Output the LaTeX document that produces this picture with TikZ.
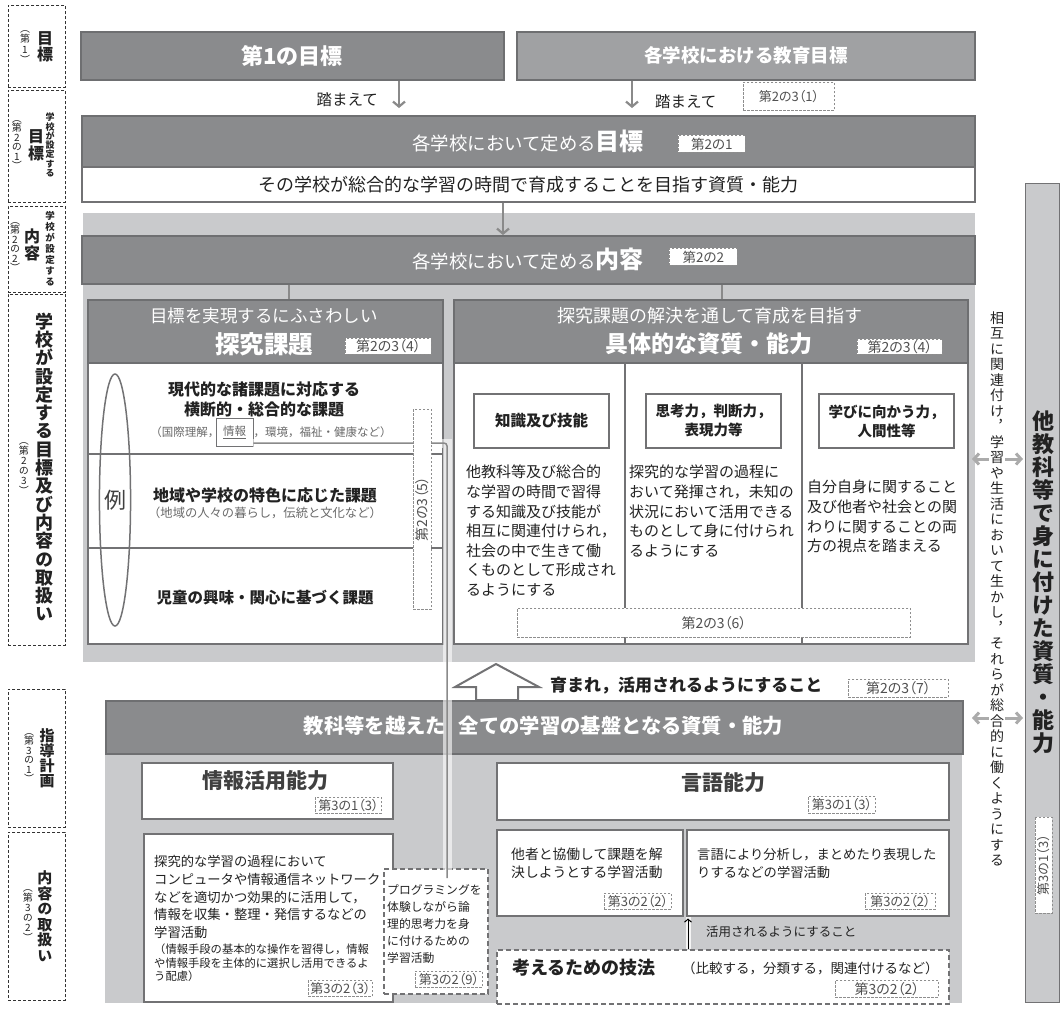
\documentclass[tikz,border=0pt]{standalone}
\usepackage{fontspec}
\setmainfont{Noto Sans CJK JP}
\newfontfamily\vjp{Noto Sans CJK JP}[RawFeature=+vert]
\newfontfamily\pjp{Noto Sans CJK JP}[RawFeature=+palt]
\usetikzlibrary{arrows.meta,shapes.geometric}
\definecolor{dk}{HTML}{8A8B8D}
\definecolor{dkb}{HTML}{6E6F71}
\definecolor{mid}{HTML}{A0A1A3}
\definecolor{lg}{HTML}{C9CACC}
\definecolor{bd}{HTML}{727274}
\definecolor{tagc}{HTML}{8E8E8E}
\definecolor{tagt}{HTML}{505050}
\definecolor{txt}{HTML}{222222}
\definecolor{gtx}{HTML}{6A6A6A}
\definecolor{arc}{HTML}{8A8A8A}
\definecolor{lar}{HTML}{ABABAB}
\makeatletter
\newcommand\vst[2]{\vbox{\baselineskip=#1\lineskiplimit=-\maxdimen\lineskip=0pt\@tfor\vch:=#2\do{\hbox to 1em{\hss\vch\hss}}}}
\makeatother
\newcommand\fsz[2]{\fontsize{#1}{#2}\selectfont}
\newcommand\bx[5]{\node[#1,anchor=north west,minimum width={#4-#2},minimum height={#5-#3}] at (#2,#3)}
\begin{document}
\begin{tikzpicture}[x=1pt,y=-1pt,
 dkbox/.style={fill=dk,draw=dkb,line width=1.5pt,inner sep=0pt,text=white},
 wbox/.style={fill=white,draw=bd,line width=1.5pt,inner sep=0pt},
 tagbox/.style={fill=white,draw=tagc,dash pattern=on 2.5pt off 1.5pt,line width=0.8pt,inner sep=0pt,text=tagt,font=\pjp\fsz{13}{13}},
 lbl/.style={draw=black!80,dash pattern=on 3pt off 2pt,line width=0.8pt,inner sep=0pt},
 tdash/.style={fill=white,draw=bd,line width=2pt,dash pattern=on 5pt off 3pt,inner sep=0pt},
 bgbox/.style={fill=lg,draw=none,inner sep=0pt},
 tx/.style={inner sep=0pt,text=txt},
 wt/.style={inner sep=0pt,text=white},
 garr/.style={draw=arc,line width=2.2pt,-{Straight Barb[length=5pt,width=12pt]}},
 larr/.style={draw=lar,line width=3pt,-{Straight Barb[length=5pt,width=11pt]}}]
\fill[white] (0,0) rectangle (1061,1010);
\useasboundingbox (0,0) rectangle (1061,1010);
% backgrounds
\bx{bgbox}{83}{213}{975}{662} (bga) {};
\bx{bgbox}{105}{700}{962}{1003} (bgb) {};
\bx{bgbox,draw=bd,line width=1pt}{1025}{183}{1059}{1002} (bar) {};
% left labels
\bx{lbl}{8}{5}{65}{87} (lb1) {};
\node[tx,font=\vjp\bfseries\fsz{16}{16}] (lb1a) at (45,47) {\vst{16.5pt}{目標}};
\node[tx,font=\vjp\fsz{10}{10}] (lb1b) at (25,47) {\vst{10.5pt}{（第1）}};
\bx{lbl}{8}{90}{65}{202} (lb2) {};
\node[tx,font=\vjp\bfseries\fsz{9}{9}] (lb2a) at (50,145) {\vst{9.3pt}{学校が設定する}};
\node[tx,font=\vjp\bfseries\fsz{16}{16}] (lb2b) at (36,145) {\vst{17pt}{目標}};
\node[tx,font=\vjp\fsz{10}{10}] (lb2c) at (17,145) {\vst{9.5pt}{（第2の1）}};
\bx{lbl}{8}{206}{65}{292} (lb3) {};
\node[tx,font=\vjp\bfseries\fsz{9.5}{9.5}] (lb3a) at (50,249) {\vst{11pt}{学校が設定する}};
\node[tx,font=\vjp\bfseries\fsz{16}{16}] (lb3b) at (32,245) {\vst{17pt}{内容}};
\node[tx,font=\vjp\fsz{10}{10}] (lb3c) at (15,247) {\vst{9.5pt}{（第2の2）}};
\bx{lbl}{8}{294}{65}{645} (lb4) {};
\node[tx,font=\vjp\bfseries\fsz{18}{18}] (lb4a) at (44,467) {\vst{18.3pt}{学校が設定する目標及び内容の取扱い}};
\node[tx,font=\vjp\fsz{10}{10}] (lb4b) at (24,469) {\vst{10pt}{（第2の3）}};
\bx{lbl}{8}{689}{65}{827} (lb5) {};
\node[tx,font=\vjp\bfseries\fsz{15}{15}] (lb5a) at (47,758) {\vst{15pt}{指導計画}};
\node[tx,font=\vjp\fsz{10}{10}] (lb5b) at (29,758) {\vst{9.5pt}{（第3の1）}};
\bx{lbl}{8}{832}{65}{1000} (lb6) {};
\node[tx,font=\vjp\bfseries\fsz{15}{15}] (lb6a) at (45,916) {\vst{15.5pt}{内容の取扱い}};
\node[tx,font=\vjp\fsz{10}{10}] (lb6b) at (28,916) {\vst{10pt}{（第3の2）}};
% top boxes
\bx{dkbox}{80}{31}{503}{79} (g1) {\bfseries\fsz{22}{22}第1の目標};
\bx{dkbox,fill=mid}{516}{31}{974}{79} (g2) {\bfseries\fsz{18.5}{18.5}各学校における教育目標};
\bx{dkbox}{81}{115}{974}{166} (gm) {\fsz{18.4}{20}各学校において定める\bfseries\fsz{24}{24}目標};
\bx{wbox,text=txt}{81}{166}{974}{201} (gw) {\fsz{18}{18}その学校が総合的な学習の時間で育成することを目指す資質・能力};
\bx{dkbox}{81}{235}{974}{283} (gc) {\fsz{18.4}{20}各学校において定める\bfseries\fsz{24}{24}内容};
\bx{tagbox,font=\pjp\fsz{13}{13}}{743}{82}{834}{110} (t231) {第2の3（1）};
\bx{tagbox,font=\pjp\fsz{13.5}{13.5}}{678}{135}{745}{152} (t21) {第2の1};
\bx{tagbox,font=\pjp\fsz{13.5}{13.5}}{669}{248}{737}{265} (t22) {第2の2};
\coordinate (xa) at (399,0);
\coordinate (xb) at (632,0);
\coordinate (xc) at (503,0);
\draw[garr,shorten >=7pt] (g1.south -| xa) -- (gm.north -| xa);
\draw[garr,shorten >=7pt] (g2.south -| xb) -- (gm.north -| xb);
\draw[garr] (gw.south -| xc) -- (gc.north -| xc);
\node[tx,font=\fsz{15.5}{16},anchor=east] (fm1) at (378,100) {踏まえて};
\node[tx,font=\fsz{15.5}{16},anchor=west] (fm2) at (655,102) {踏まえて};
% left big box
\bx{wbox}{87}{362}{442}{643} (Lb) {};
\bx{dkbox}{87}{299}{442}{362} (Lh) {};
\node[wt,font=\fsz{17.5}{18}] (Lh1) at (264,316) {目標を実現するにふさわしい};
\node[wt,font=\bfseries\fsz{24.5}{25}] (Lh2) at (264,344) {探究課題};
\bx{tagbox,font=\pjp\fsz{14}{14}}{345}{338}{431}{354} (t234a) {第2の3（4）};
\coordinate (cx1) at (289,0);
\coordinate (cx2) at (722,0);
\draw[arc,line width=2pt] (gc.south -| cx1) -- (Lh.north -| cx1);
\draw[bd,line width=2pt] (Lb.west |- 0,454) -- (Lb.east |- 0,454);
\draw[bd,line width=2pt] (Lb.west |- 0,548) -- (Lb.east |- 0,548);
\node[draw=bd,line width=1.5pt,ellipse,minimum width=25pt,minimum height=252pt,inner sep=0pt,text=black!75,font=\fsz{22}{22}] (rei) at (115,500) {例};
\node[tx,font=\bfseries\fsz{16}{16}] (r1a) at (264,389) {現代的な諸課題に対応する};
\node[tx,font=\bfseries\fsz{16}{16}] (r1b) at (264,409) {横断的・総合的な課題};
\node[draw=bd,line width=0.8pt,minimum width=37pt,minimum height=28pt,inner sep=0pt,text=gtx,font=\fsz{11.5}{12}] (info) at (234.5,432) {\underline{情報}};
\node[inner sep=0pt,text=gtx,font=\fsz{11.5}{12},anchor=east] (r1c) at ([xshift=4pt]info.west) {（国際理解，};
\node[inner sep=0pt,text=gtx,font=\fsz{11.5}{12},anchor=west] (r1d) at (info.east) {，環境，福祉・健康など）};
\node[tx,font=\bfseries\fsz{16}{16}] (r2a) at (265,495) {地域や学校の特色に応じた課題};
\node[inner sep=0pt,text=gtx,font=\fsz{12.3}{13}] (r2b) at (265,513) {（地域の人々の暮らし，伝統と文化など）};
\node[tx,font=\bfseries\fsz{15.5}{16}] (r3) at (265,598) {児童の興味・関心に基づく課題};
% right big box
\bx{wbox}{453}{362}{967}{643} (Rb) {};
\bx{dkbox}{453}{299}{967}{362} (Rh) {};
\draw[arc,line width=2pt] (gc.south -| cx2) -- (Rh.north -| cx2);
\node[wt,font=\fsz{18}{18}] (Rh1) at (710,316) {探究課題の解決を通して育成を目指す};
\node[wt,font=\bfseries\fsz{23}{23}] (Rh2) at (709,344) {具体的な資質・能力};
\bx{tagbox,font=\pjp\fsz{14}{14}}{857}{339}{942}{354} (t234b) {第2の3（4）};
\draw[bd,line width=2pt] (Rb.north -| 625,0) -- (Rb.south -| 625,0);
\draw[bd,line width=2pt] (Rb.north -| 802,0) -- (Rb.south -| 802,0);
\bx{wbox,line width=2pt,text=txt,font=\bfseries\fsz{15.5}{19},align=center}{473}{393}{608}{447} (k1) {知識及び技能};
\bx{wbox,line width=2pt,text=txt,font=\bfseries\fsz{14.5}{19},align=center}{645}{393}{780}{447} (k2) {思考力，判断力，\\表現力等};
\bx{wbox,line width=2pt,text=txt,font=\bfseries\fsz{14.5}{19},align=center}{818}{393}{953}{447} (k3) {学びに向かう力，\\人間性等};
\node[tx,font=\fsz{15}{19.6},align=left,anchor=north west] (c1) at (466,465) {他教科等及び総合的\\な学習の時間で習得\\する知識及び技能が\\相互に関連付けられ，\\社会の中で生きて働\\くものとして形成され\\るようにする};
\node[tx,font=\fsz{15}{19.6},align=left,anchor=north west] (c2) at (629,465) {探究的な学習の過程に\\おいて発揮され，未知の\\状況において活用できる\\ものとして身に付けられ\\るようにする};
\node[tx,font=\fsz{15}{19.6},align=left,anchor=north west] (c3) at (807,480) {自分自身に関すること\\及び他者や社会との関\\わりに関することの両\\方の視点を踏まえる};
\bx{tagbox,font=\pjp\fsz{14}{14}}{517}{608}{910}{637} (t236) {第2の3（6）};
% hollow arrow
\draw[fill=white,draw=bd,line width=2pt,line join=miter] (496,664) -- (539,687) -- (518,687) -- (518,700) -- (476,700) -- (476,687) -- (455,687) -- cycle;
\node[tx,font=\bfseries\fsz{17}{17},anchor=west] (ik) at (550,686) {育まれ，活用されるようにすること};
\bx{tagbox,font=\pjp\fsz{14}{14}}{848}{679}{948}{697} (t237) {第2の3（7）};
% bottom
\bx{dkbox}{105}{700}{962}{753} (h2) {};
\node[wt,font=\bfseries\fsz{20.3}{21}] (h2t) at (543.5,726) {教科等を越えた\hspace{13pt}全ての学習の基盤となる資質・能力};
\bx{wbox}{141}{762}{392}{818} (jk) {};
\node[inner sep=0pt,text=black!75,font=\bfseries\fsz{21}{21}] (jkt) at (265,780) {情報活用能力};
\bx{tagbox}{315}{797}{381}{813} (t313a) {第3の1（3）};
\bx{wbox}{143}{833}{392}{1001} (tq) {};
\node[tx,font=\fsz{13.3}{17.8},align=left,anchor=north west] (tqt) at (154,855) {探究的な学習の過程において\\コンピュータや情報通信ネットワーク\\などを適切かつ効果的に活用して，\\情報を収集・整理・発信するなどの\\学習活動};
\node[tx,font=\fsz{11.3}{13.5},align=left,anchor=north west] (tqs) at (154,944) {（情報手段の基本的な操作を習得し，情報\\や情報手段を主体的に選択し活用できるよ\\う配慮）};
\bx{tagbox}{308}{980}{372}{996} (t323) {第3の2（3）};
\bx{tdash}{383}{868}{487}{993} (pg) {};
\node[tx,font=\fsz{11.8}{17},align=left,anchor=north west] (pgt) at (387,884) {プログラミングを\\体験しながら論\\理的思考力を身\\に付けるための\\学習活動};
\bx{tagbox}{415}{971}{482}{987} (t329) {第3の2（9）};
\bx{wbox}{496}{762}{948}{819} (gg) {};
\node[inner sep=0pt,text=black!75,font=\bfseries\fsz{21}{21}] (ggt) at (723,782) {言語能力};
\bx{tagbox}{808}{796}{875}{813} (t313b) {第3の1（3）};
\bx{wbox}{496}{829}{682}{915} (kd) {};
\node[tx,font=\fsz{13.8}{18},align=left,anchor=north west] (kdt) at (511,848) {他者と協働して課題を解\\決しようとする学習活動};
\bx{tagbox}{604}{893}{671}{909} (t322a) {第3の2（2）};
\bx{wbox}{686}{829}{948}{915} (bs) {};
\node[tx,font=\fsz{13.3}{18},align=left,anchor=north west] (bst) at (697,848) {言語により分析し，まとめたり表現した\\りするなどの学習活動};
\bx{tagbox}{865}{893}{935}{909} (t322b) {第3の2（2）};
\bx{tdash}{496}{949}{948}{1003} (kg) {};
\node[tx,font=\bfseries\fsz{18}{18},anchor=west] (kgt1) at (512,968) {考えるための技法};
\node[tx,font=\fsz{13.5}{14},anchor=west] (kgt2) at (682,968) {（比較する，分類する，関連付けるなど）};
\bx{tagbox,font=\pjp\fsz{14}{14}}{835}{980}{938}{997} (t322c) {第3の2（2）};
\coordinate (xk) at (688,0);
\draw[white,line width=5pt,opacity=0.8] (kg.north -| xk) -- (bs.south -| xk);
\draw[black,line width=1pt,-{Straight Barb[length=3pt,width=7pt]}] (kg.north -| xk) -- ([yshift=-2pt]bs.south -| xk);
\node[tx,font=\fsz{12.5}{13},anchor=west] (ky) at (706,932) {活用されるようにすること};
% connector from info to programming
\coordinate (cc1) at (447,443);
\coordinate (cc2) at (447,878);
\draw[white,line width=9pt,opacity=0.6] (info.east |- cc1) -- (cc1) -- (cc2);
\draw[arc,line width=1.5pt,rounded corners=3pt] (info.east |- cc1) -- (cc1) -- (cc2);
\node[tagbox,font=\pjp\fsz{14}{14},rotate=90,minimum width=200pt,minimum height=18pt] (t235) at (422,509) {第2の3（5）};
% right side
\node[tx,font=\vjp\bfseries\fsz{22}{22}] (vt) at (1043,582) {\vst{23pt}{他教科等で身に付けた資質・能力}};
\node[tagbox,font=\pjp\fsz{13}{13},rotate=90,minimum width=96pt,minimum height=17pt] (t313c) at (1043.5,865) {第3の1（3）};
\node[tx,font=\vjp\fsz{14}{14}] (vr) at (997,589) {\vst{15.5pt}{相互に関連付け，学習や生活において生かし，それらが総合的に働くようにする}};
\coordinate (la) at (972,459);
\coordinate (lb) at (972,718);
\draw[larr] ([xshift=-1pt]vr.west |- la) -- (la);
\draw[larr,shorten >=2pt] ([xshift=1pt]vr.east |- la) -- (bar.west |- la);
\draw[larr] ([xshift=-1pt]vr.west |- lb) -- (lb);
\draw[larr,shorten >=2pt] ([xshift=1pt]vr.east |- lb) -- (bar.west |- lb);
\end{tikzpicture}
\end{document}
